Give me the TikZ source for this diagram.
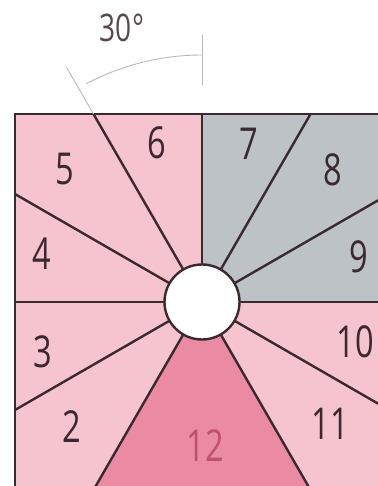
\documentclass[tikz,border=0pt]{standalone}
\usepackage{fontspec}
\setmainfont{Open Sans}[FakeStretch=0.74]
\definecolor{panelpink}{HTML}{F6C4CF}
\definecolor{panelgray}{HTML}{BCC2C6}
\definecolor{panelrose}{HTML}{EB8AA3}
\definecolor{rayline}{HTML}{3A2A30}
\definecolor{guidegray}{HTML}{B8B8B8}
\definecolor{rosetext}{HTML}{C0506E}
\begin{document}
\begin{tikzpicture}[x=0.5pt, y=0.5pt,
    ray/.style={draw=rayline, line width=1.2pt},
    guide/.style={draw=guidegray, line width=0.45pt},
    hubdisc/.style={circle, draw=rayline, line width=1.2pt, fill=white,
        minimum size=37.5pt, inner sep=0pt},
    num/.style={font=\fontsize{22}{26}\selectfont, text=rayline, inner sep=0pt}
]
\useasboundingbox (0,0) rectangle (378,486);
\coordinate (hub) at (202,184);
% panel and sectors
\begin{scope}
\clip (15,-10) rectangle (390,372);
\fill[panelpink] (15,-10) rectangle (390,372);
\fill[panelgray] (hub) rectangle (390,372);
\fill[panelrose] (hub) -- +(-120:400) -- +(-60:400) -- cycle;
\foreach \a in {-150,-120,-60,-30,0,30,60,90,120,150,180}
    \draw[ray] (hub) -- +(\a:400);
\end{scope}
\draw[ray] (15,-10) -- (15,372) -- (390,372);
\node[hubdisc] (hubnode) at (hub) {};
% angle mark
\draw[guide] (hub) ++(120:217) -- ++(120:54);
\draw[guide] (hub) ++(90:217) -- ++(90:50);
\draw[guide] (hub) ++(90:247) arc[start angle=90, end angle=118, radius=247];
\node[num, font=\fontsize{19}{22}\selectfont, text=rayline!85] (angle) at (122,458) {30°};
% sector numbers
\node[num] (s2) at (72,59) {2};
\node[num] (s3) at (43,134) {3};
\node[num] (s4) at (42,232) {4};
\node[num] (s5) at (65,317) {5};
\node[num] (s6) at (157,343) {6};
\node[num] (s7) at (249,342) {7};
\node[num] (s8) at (333,316) {8};
\node[num] (s9) at (359,229) {9};
\node[num] (s10) at (355,144) {10};
\node[num] (s11) at (330,62) {11};
\node[num, text=rosetext] (s12) at (205,40) {12};
\end{tikzpicture}
\end{document}
